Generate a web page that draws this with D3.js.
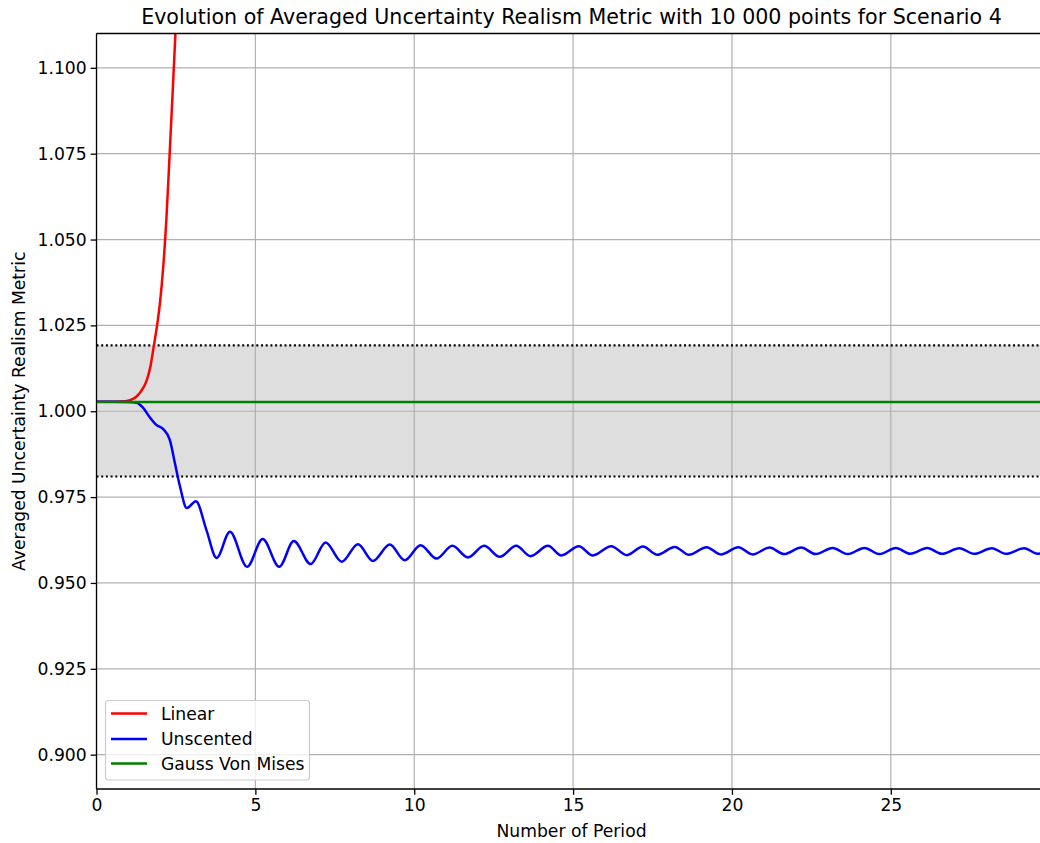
<!DOCTYPE html>
<html>
<head>
<meta charset="utf-8">
<script src="https://cdn.jsdelivr.net/npm/d3@7"></script>
<style>
  html, body { margin: 0; padding: 0; background: #ffffff; }
  svg { display: block; }
  text { font-family: "DejaVu Sans", sans-serif; fill: #000; }
</style>
</head>
<body>
<div id="chart"></div>
<script>
// ---- data ----
const titleText = "Evolution of Averaged Uncertainty Realism Metric with 10 000 points for Scenario 4";
const xLabel = "Number of Period";
const yLabel = "Averaged Uncertainty Realism Metric";
const xTicks = [0, 5, 10, 15, 20, 25];
const yTicks = [0.900, 0.925, 0.950, 0.975, 1.000, 1.025, 1.050, 1.075, 1.100];
const xDomain = [0, 29.9];
const yDomain = [0.890, 1.110];
const bandLower = 0.9810;
const bandUpper = 1.0192;
const seriesNames = ["Linear", "Unscented", "Gauss Von Mises"];
const seriesColors = ["#ff0000", "#0000ff", "#008000"];

const linearX = [0, 0.6, 0.9, 1.1, 1.26, 1.4, 1.58, 1.70, 1.80, 1.90, 2.0, 2.1, 2.2, 2.3, 2.4, 2.5, 2.6];
const linearY = [1.0028, 1.0028, 1.0029, 1.0034, 1.0043, 1.0058, 1.0090, 1.0132, 1.0188, 1.0246, 1.0318, 1.0420, 1.0560, 1.0745, 1.0935, 1.1130, 1.1330];

const unscentedX = [0, 0.5, 1.0, 1.26, 1.45, 1.68, 1.89, 2.1, 2.31, 2.47, 2.63, 2.84, 3.13, 3.46, 3.78,
  4.20, 4.74, 5.23, 5.75, 6.21, 6.74, 7.21, 7.72, 8.23, 8.70, 9.23, 9.70, 10.20, 10.70, 11.20, 11.69,
  12.20, 12.69, 13.21, 13.66, 14.21, 14.63, 15.18, 15.62, 16.20, 16.69, 17.2, 17.65, 18.2, 18.65,
  19.2, 19.65, 20.2, 20.65, 21.18, 21.64, 22.18, 22.63, 23.17, 23.64, 24.17, 24.64, 25.16, 25.61,
  26.15, 26.6, 27.16, 27.62, 28.18, 28.62, 29.2, 29.62, 29.9];
const unscentedY = [1.0028, 1.0028, 1.0027, 1.0025, 1.0012, 0.9982, 0.9960, 0.9948, 0.9916, 0.9848, 0.9780, 0.9718, 0.9738, 0.9654, 0.9573,
  0.9649, 0.9547, 0.9628, 0.9547, 0.9622, 0.9555, 0.9618, 0.9562, 0.9613, 0.9564, 0.9612, 0.9566, 0.9610, 0.9571, 0.9608, 0.9574,
  0.9608, 0.9576, 0.9608, 0.9578, 0.9608, 0.9580, 0.9607, 0.9580, 0.9607, 0.9581, 0.9606, 0.9582, 0.9605, 0.9582,
  0.9604, 0.9583, 0.9604, 0.9583, 0.9603, 0.9584, 0.9603, 0.9584, 0.9602, 0.9584, 0.9602, 0.9584, 0.9602, 0.9585,
  0.9602, 0.9585, 0.9601, 0.9585, 0.9601, 0.9585, 0.9601, 0.9585, 0.9592];

const gvmX = [0, 29.9];
const gvmY = [1.0027, 1.0027];

// ---- layout ----
const W = 1040, H = 843;
const plot = { left: 96.5, right: 1046.5, top: 33.5, bottom: 789 };

const svg = d3.select("#chart").append("svg").attr("width", W).attr("height", H);

const x = d3.scaleLinear().domain(xDomain).range([plot.left, plot.right]);
const y = d3.scaleLinear().domain(yDomain).range([plot.bottom, plot.top]);

svg.append("defs").append("clipPath").attr("id", "clip")
  .append("rect").attr("x", plot.left).attr("y", plot.top)
  .attr("width", plot.right - plot.left).attr("height", plot.bottom - plot.top);

const g = svg.append("g").attr("clip-path", "url(#clip)");

// band
g.append("rect")
  .attr("x", plot.left).attr("width", plot.right - plot.left)
  .attr("y", y(bandUpper)).attr("height", y(bandLower) - y(bandUpper))
  .attr("fill", "#dedede");

// grid
g.selectAll(".vgrid").data(xTicks).join("line")
  .attr("x1", d => x(d)).attr("x2", d => x(d))
  .attr("y1", plot.top).attr("y2", plot.bottom)
  .attr("stroke", "#b0b0b0").attr("stroke-width", 1.2);
g.selectAll(".hgrid").data(yTicks).join("line")
  .attr("y1", d => y(d)).attr("y2", d => y(d))
  .attr("x1", plot.left).attr("x2", plot.right)
  .attr("stroke", "#b0b0b0").attr("stroke-width", 1.2);

// dotted bounds
[bandLower, bandUpper].forEach(v => {
  g.append("line")
    .attr("x1", plot.left).attr("x2", plot.right)
    .attr("y1", y(v)).attr("y2", y(v))
    .attr("stroke", "#000").attr("stroke-width", 2.2)
    .attr("stroke-dasharray", "2,2.7");
});

const line = d3.line().x(d => x(d[0])).y(d => y(d[1])).curve(d3.curveMonotoneX);
const series = [
  d3.zip(linearX, linearY),
  d3.zip(unscentedX, unscentedY),
  d3.zip(gvmX, gvmY)
];
series.forEach((s, i) => {
  g.append("path").datum(s).attr("d", line)
    .attr("fill", "none").attr("stroke", seriesColors[i]).attr("stroke-width", 2.5)
    .attr("stroke-linejoin", "round");
});

// axes
const fs = "17.2px";
const xAxis = d3.axisBottom(x).tickValues(xTicks).tickFormat(d3.format("d")).tickSize(5.8).tickPadding(4);
const yAxis = d3.axisLeft(y).tickValues(yTicks).tickFormat(d3.format(".3f")).tickSize(5.8).tickPadding(4);

const gx = svg.append("g").attr("transform", `translate(0,${plot.bottom})`).call(xAxis);
const gy = svg.append("g").attr("transform", `translate(${plot.left},0)`).call(yAxis);
[gx, gy].forEach(a => {
  a.select(".domain").remove();
  a.selectAll(".tick line").attr("stroke", "#000").attr("stroke-width", 1.3);
  a.selectAll(".tick text").attr("font-family", "DejaVu Sans").attr("font-size", fs).attr("fill", "#000");
});

// spines
const spine = (x1, y1, x2, y2) => svg.append("line").attr("x1", x1).attr("x2", x2).attr("y1", y1).attr("y2", y2)
  .attr("stroke", "#000").attr("stroke-width", 1.3);
spine(plot.left, plot.top, plot.left, plot.bottom);
spine(plot.left, plot.top, plot.right, plot.top);
spine(plot.left, plot.bottom, plot.right, plot.bottom);
spine(plot.right, plot.top, plot.right, plot.bottom);

// title & labels
svg.append("text").attr("x", (plot.left + plot.right) / 2).attr("y", 24)
  .attr("text-anchor", "middle").attr("font-size", "20.6px").text(titleText);
svg.append("text").attr("x", (plot.left + plot.right) / 2).attr("y", 837)
  .attr("text-anchor", "middle").attr("font-size", fs).text(xLabel);
svg.append("text").attr("transform", `translate(25,${(plot.top + plot.bottom) / 2}) rotate(-90)`)
  .attr("text-anchor", "middle").attr("font-size", fs).text(yLabel);

// legend
const lg = svg.append("g");
lg.append("rect").attr("x", 105.5).attr("y", 700.5).attr("width", 204).attr("height", 79.5)
  .attr("rx", 3).attr("fill", "#ffffff").attr("fill-opacity", 0.8)
  .attr("stroke", "#cccccc").attr("stroke-width", 1.2);
const legendY = [713.5, 739, 763.5];
seriesNames.forEach((n, i) => {
  lg.append("line").attr("x1", 111).attr("x2", 147).attr("y1", legendY[i]).attr("y2", legendY[i])
    .attr("stroke", seriesColors[i]).attr("stroke-width", 2.5);
  lg.append("text").attr("x", 161).attr("y", legendY[i] + 6).attr("font-size", fs).text(n);
});
</script>
</body>
</html>
